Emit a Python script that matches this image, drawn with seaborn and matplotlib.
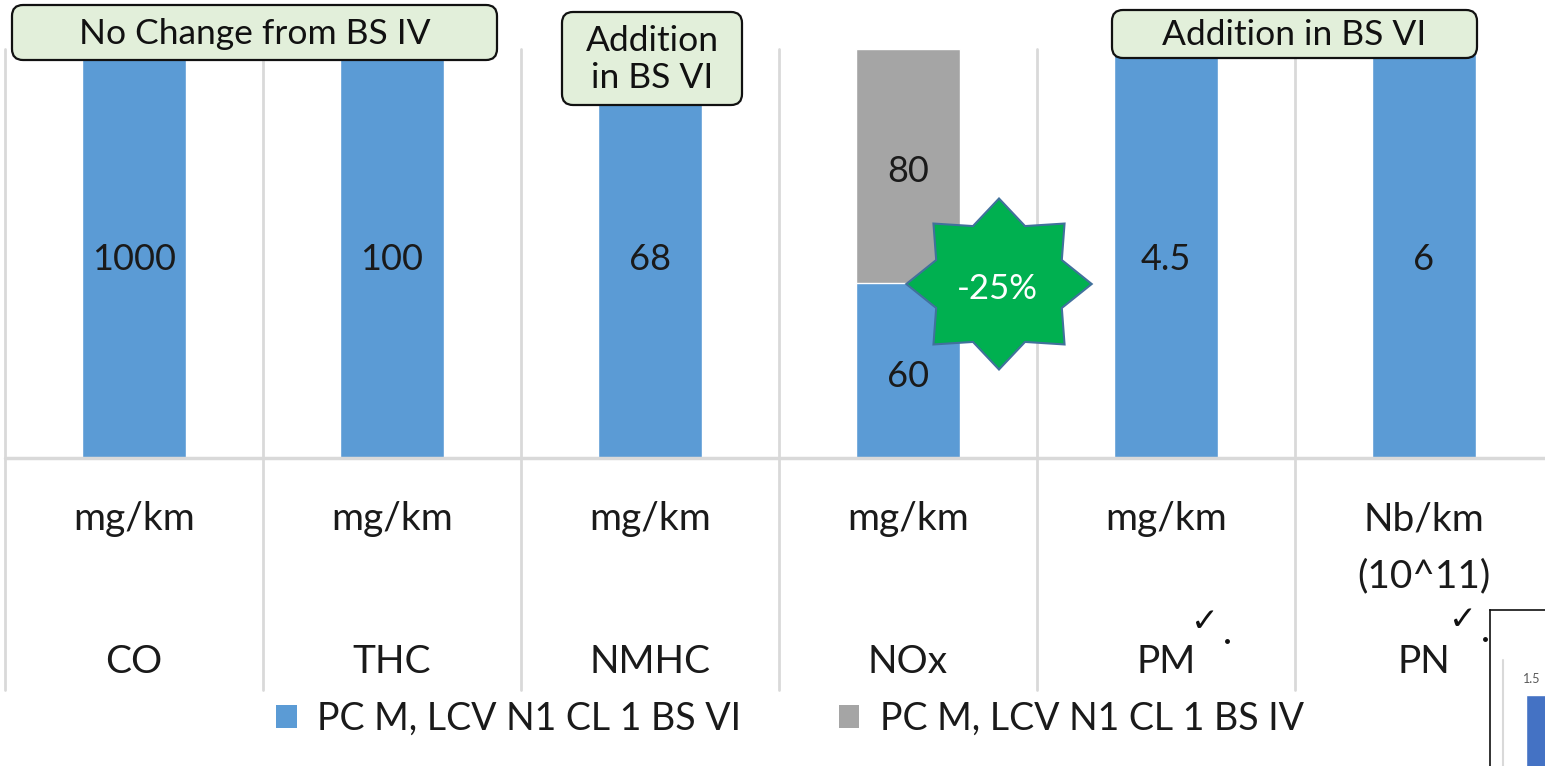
import numpy as np
import pandas as pd
import matplotlib
matplotlib.use("Agg")
import matplotlib.pyplot as plt
import matplotlib.transforms as mtransforms
from matplotlib.patches import Polygon, FancyBboxPatch, Patch
import seaborn as sns

# ---------------- data ----------------
categories = ["CO", "THC", "NMHC", "NOx", "PM", "PN"]
units = ["mg/km", "mg/km", "mg/km", "mg/km", "mg/km", "Nb/km\n(10^11)"]
bs6_values = [1000, 100, 68, 60, 4.5, 6]
bs4_values = [0, 0, 0, 80, 0, 0]
bs6_labels = ["1000", "100", "68", "60", "4.5", "6"]
bs4_labels = ["", "", "", "80", "", ""]
series_names = ["PC M, LCV N1 CL 1 BS VI", "PC M, LCV N1 CL 1 BS IV"]
inset_values = [1.5]

BLUE = "#5b9bd5"
GRAY = "#a5a5a5"
GRID = "#d9d9d9"
FONT = ["Lato", "DejaVu Sans"]

sns.set_theme(style="white")
plt.rcParams["font.family"] = FONT

W, H = 1545, 766
fig = plt.figure(figsize=(W / 100, H / 100), dpi=100)


def fy(py):
    return 1 - py / H


df = pd.DataFrame({"cat": categories, "bs6": bs6_values, "bs4": bs4_values})
df["total"] = df["bs6"] + df["bs4"]
df["bs6_pct"] = df["bs6"] / df["total"] * 100
df["total_pct"] = 100.0

ax = fig.add_axes([5 / W, fy(458), 1 - 5 / W, (458 - 49) / H])
sns.barplot(data=df, x="cat", y="total_pct", order=categories, color=GRAY,
            saturation=1, width=0.4, ax=ax, zorder=2)
sns.barplot(data=df, x="cat", y="bs6_pct", order=categories, color=BLUE,
            saturation=1, width=0.4, ax=ax, zorder=3)
ax.set_xlim(-0.5, -0.5 + 1540 / 258)
ax.set_ylim(0, 100)
ax.set_xlabel("")
ax.set_ylabel("")
ax.set_xticks([])
ax.set_yticks([])
for s in ax.spines.values():
    s.set_visible(False)

# grid / table lines
ymin_ext = -(690 - 458) / (458 - 49)
for xb in np.arange(-0.5, len(categories), 1.0):
    ax.axvline(xb, ymin=ymin_ext, ymax=1, color=GRID, lw=2, clip_on=False, zorder=1)
ax.axhline(0, color=GRID, lw=2.5, clip_on=False, zorder=4)

# value labels
for i, row in df.iterrows():
    ax.annotate(bs6_labels[i], (i, row["bs6_pct"] / 2), xytext=(0, -6),
                textcoords="offset pixels", ha="center", va="center",
                fontsize=26, color="#1a1a1a", zorder=5)
    if row["bs4"] > 0:
        ax.annotate(bs4_labels[i], (i, (row["bs6_pct"] + 100) / 2), xytext=(0, -6),
                    textcoords="offset pixels", ha="center", va="center",
                    fontsize=26, color="#1a1a1a", zorder=5)

# table text below the axis
trans = mtransforms.blended_transform_factory(ax.transData, fig.transFigure)
for i, (u, c) in enumerate(zip(units, categories)):
    ax.text(i, fy(501), u, transform=trans, ha="center", va="top", fontsize=28,
            color="#1a1a1a", linespacing=1.75, clip_on=False)
    ax.text(i, fy(662), c, transform=trans, ha="center", va="center", fontsize=28,
            color="#1a1a1a", clip_on=False)

# legend
handles = [Patch(facecolor=BLUE, edgecolor="none"), Patch(facecolor=GRAY, edgecolor="none")]
fig.legend(handles, series_names, loc="center", bbox_to_anchor=(790 / W, fy(719)),
           ncol=2, frameon=False, fontsize=27, handlelength=0.55, handleheight=0.55,
           handletextpad=0.55, columnspacing=2.6, labelcolor="#1a1a1a")

# overlay for callouts (pixel coordinates)
ov = fig.add_axes([0, 0, 1, 1], zorder=10)
ov.set_xlim(0, W)
ov.set_ylim(H, 0)
ov.axis("off")
ov.patch.set_alpha(0)


def callout(x0, y0, x1, y1, text):
    ov.add_patch(FancyBboxPatch((x0, y0), x1 - x0, y1 - y0,
                                boxstyle="round,pad=0,rounding_size=11",
                                facecolor="#e2efda", edgecolor="#111111", lw=1.6))
    ov.text((x0 + x1) / 2, (y0 + y1) / 2 + 1, text, ha="center", va="center",
            fontsize=25.5, color="#111111", linespacing=1.2)


callout(12, 5, 497, 60, "No Change from BS IV")
callout(562, 12, 742, 105, "Addition\nin BS VI")
callout(1112, 10, 1477, 58, "Addition in BS VI")

# star
cx, cy = 999, 284
pts = []
for k in range(16):
    ang = np.pi / 2 + k * np.pi / 8
    r = 90 if k % 2 == 0 else 66
    pts.append((cx + r * np.cos(ang) * 1.03, cy - r * np.sin(ang) * 0.95))
ov.add_patch(Polygon(pts, closed=True, facecolor="#00b050", edgecolor="#41719c", lw=1.5))
ov.text(cx - 2, cy + 5, "-25%", ha="center", va="center", fontsize=25, color="white")

# check marks
for x, y in [(1205, 622), (1463, 620)]:
    ov.text(x, y, "\u2713", ha="center", va="center", fontsize=24, color="#111111",
            family=["DejaVu Sans"])
    ov.plot([x + 22], [y + 19], marker="o", markersize=2.5, color="#111111")

# inset fragment at bottom-right
ax2 = fig.add_axes([1490 / W, fy(816), 80 / W, (816 - 610) / H], zorder=11)
sns.barplot(x=[0], y=inset_values, color="#4472c4", saturation=1, width=0.8, ax=ax2)
ax2.set_xlim(-1.218, 0.6)
ax2.set_ylim(0, 2.55)
ax2.axvline(-0.923, ymin=0, ymax=0.757, color=GRID, lw=1.5)
ax2.text(-0.48, inset_values[0] + 0.12, "1.5", ha="left", va="bottom", fontsize=9,
         color="#595959")
ax2.set_xticks([])
ax2.set_yticks([])
ax2.set_xlabel("")
ax2.set_ylabel("")
for s in ax2.spines.values():
    s.set_visible(True)
    s.set_color("#111111")
    s.set_linewidth(1.2)

fig.savefig("out.png", dpi=100)
